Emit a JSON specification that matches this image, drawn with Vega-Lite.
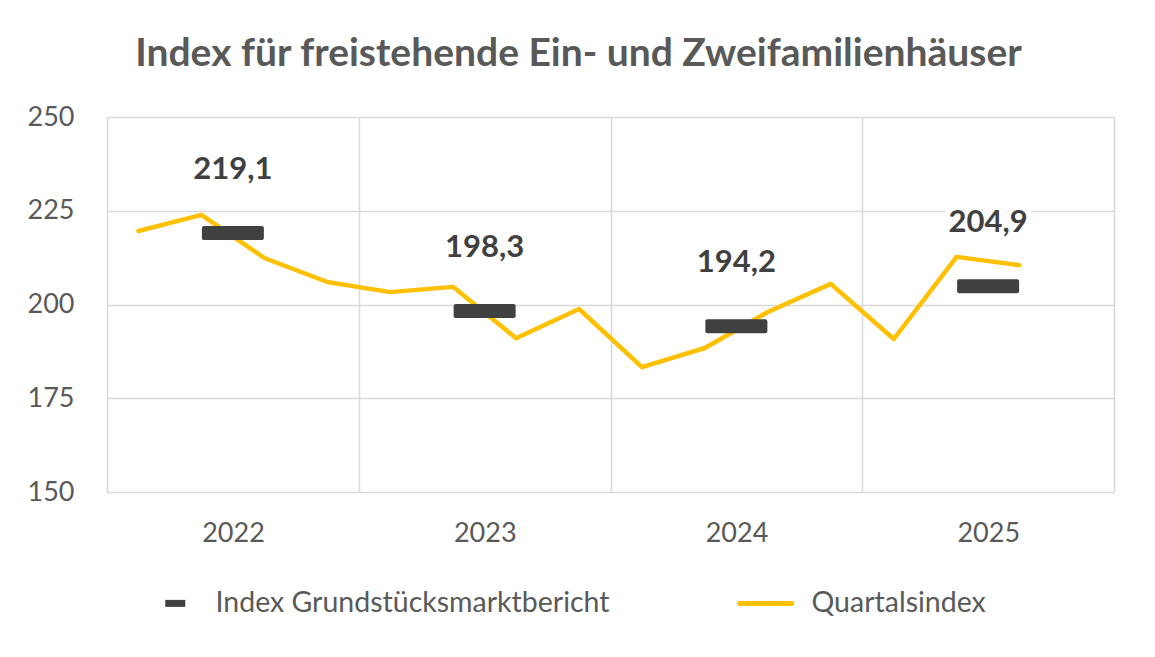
{
  "$schema": "https://vega.github.io/schema/vega-lite/v6.json",
  "width": 1007,
  "height": 375,
  "autosize": {"type": "none"},
  "padding": {"left": 107, "top": 117, "right": 41, "bottom": 165},
  "background": "white",
  "config": {
    "locale": {"number": {"decimal": ",", "thousands": ".", "grouping": [3], "currency": ["", " €"]}},
    "view": {"stroke": null},
    "font": "Lato"
  },
  "title": {
    "text": "Index für freistehende Ein- und Zweifamilienhäuser",
    "font": "Lato",
    "fontSize": 39,
    "fontWeight": "bold",
    "color": "#595959",
    "anchor": "middle",
    "frame": "group",
    "dx": -32,
    "offset": 29
  },
  "datasets": {
    "quartal": [
      {"zeit": 2022.125, "wert": 219.6, "reihe": "Quartalsindex"},
      {"zeit": 2022.375, "wert": 223.9, "reihe": "Quartalsindex"},
      {"zeit": 2022.625, "wert": 212.4, "reihe": "Quartalsindex"},
      {"zeit": 2022.875, "wert": 206.0, "reihe": "Quartalsindex"},
      {"zeit": 2023.125, "wert": 203.3, "reihe": "Quartalsindex"},
      {"zeit": 2023.375, "wert": 204.7, "reihe": "Quartalsindex"},
      {"zeit": 2023.625, "wert": 191.0, "reihe": "Quartalsindex"},
      {"zeit": 2023.875, "wert": 198.8, "reihe": "Quartalsindex"},
      {"zeit": 2024.125, "wert": 183.3, "reihe": "Quartalsindex"},
      {"zeit": 2024.375, "wert": 188.4, "reihe": "Quartalsindex"},
      {"zeit": 2024.625, "wert": 198.0, "reihe": "Quartalsindex"},
      {"zeit": 2024.875, "wert": 205.5, "reihe": "Quartalsindex"},
      {"zeit": 2025.125, "wert": 190.8, "reihe": "Quartalsindex"},
      {"zeit": 2025.375, "wert": 212.7, "reihe": "Quartalsindex"},
      {"zeit": 2025.625, "wert": 210.5, "reihe": "Quartalsindex"}
    ],
    "bericht": [
      {"zeit": 2022.5, "wert": 219.1, "reihe": "Index Grundstücksmarktbericht"},
      {"zeit": 2023.5, "wert": 198.3, "reihe": "Index Grundstücksmarktbericht"},
      {"zeit": 2024.5, "wert": 194.2, "reihe": "Index Grundstücksmarktbericht"},
      {"zeit": 2025.5, "wert": 204.9, "reihe": "Index Grundstücksmarktbericht"}
    ]
  },
  "encoding": {
    "x": {
      "field": "zeit",
      "type": "quantitative",
      "scale": {"domain": [2022, 2026], "nice": false, "zero": false},
      "axis": {
        "title": null,
        "values": [2022, 2023, 2024, 2025, 2026],
        "labelExpr": "datum.value < 2026 ? '' + datum.value : ''",
        "grid": true,
        "gridColor": "#d9d9d9",
        "gridWidth": 1.5,
        "ticks": false,
        "domain": false,
        "labelOffset": 126,
        "labelPadding": 28,
        "labelFlush": false,
        "labelOverlap": false,
        "labelBound": false,
        "labelFont": "Lato",
        "labelFontSize": 27,
        "labelColor": "#595959"
      }
    },
    "y": {
      "field": "wert",
      "type": "quantitative",
      "scale": {"domain": [150, 250], "nice": false, "zero": false},
      "axis": {
        "title": null,
        "values": [150, 175, 200, 225, 250],
        "grid": true,
        "gridColor": "#d9d9d9",
        "gridWidth": 1.5,
        "ticks": false,
        "domain": false,
        "labelPadding": 33,
        "labelFont": "Lato",
        "labelFontSize": 27,
        "labelColor": "#595959"
      }
    }
  },
  "layer": [
    {
      "data": {"name": "quartal"},
      "mark": {"type": "line", "strokeWidth": 4.5, "strokeCap": "round", "strokeJoin": "round"},
      "encoding": {
        "color": {
          "field": "reihe",
          "type": "nominal",
          "scale": {"domain": ["Index Grundstücksmarktbericht", "Quartalsindex"], "range": ["#404040", "#FFC000"]},
          "legend": {
            "orient": "none",
            "legendX": 63,
            "legendY": 472,
            "direction": "horizontal",
            "title": null,
            "symbolType": "stroke",
            "symbolSize": 400,
            "symbolStrokeWidth": 7,
            "labelFont": "Lato",
            "labelFontSize": 28.5,
            "labelColor": "#595959",
            "labelOffset": 17,
            "labelLimit": 0,
            "columnPadding": 119,
            "encode": {
              "symbols": {
                "update": {
                  "size": {"signal": "datum.value === 'Quartalsindex' ? 2704 : 400"},
                  "strokeWidth": {"signal": "datum.value === 'Quartalsindex' ? 5 : 7"},
                  "strokeCap": {"signal": "datum.value === 'Quartalsindex' ? 'round' : 'butt'"},
                  "x": {"signal": "datum.value === 'Quartalsindex' ? datum.size / 2 - 14.5 : datum.size / 2 - 9"}
                }
              }
            }
          }
        }
      }
    },
    {
      "data": {"name": "bericht"},
      "mark": {"type": "tick", "orient": "horizontal", "size": 62, "thickness": 14, "cornerRadius": 2, "opacity": 1},
      "encoding": {
        "color": {"field": "reihe", "type": "nominal"}
      }
    },
    {
      "data": {"name": "bericht"},
      "mark": {"type": "text", "dy": -63, "baseline": "middle", "font": "Lato", "fontSize": 31, "fontWeight": "bold", "fill": "white", "stroke": "white", "strokeWidth": 12, "strokeJoin": "round"},
      "encoding": {
        "text": {"field": "wert", "type": "quantitative", "format": ".1f"}
      }
    },
    {
      "data": {"name": "bericht"},
      "mark": {"type": "text", "dy": -63, "baseline": "middle", "font": "Lato", "fontSize": 31, "fontWeight": "bold", "color": "#404040"},
      "encoding": {
        "text": {"field": "wert", "type": "quantitative", "format": ".1f"}
      }
    }
  ]
}
